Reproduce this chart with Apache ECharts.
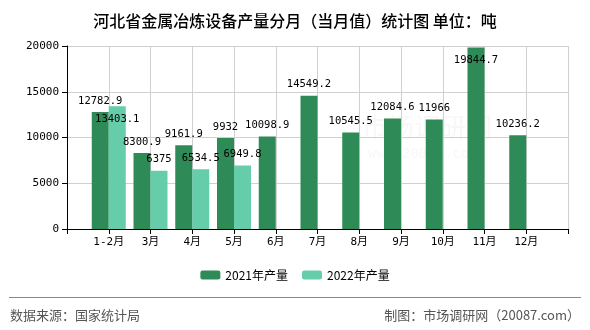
<!DOCTYPE html>
<html>
<head>
<meta charset="utf-8">
<script src="https://cdn.jsdelivr.net/npm/echarts@6/dist/echarts.min.js"></script>
<style>html,body{margin:0;padding:0;background:#fff;}#c{width:590px;height:330px;}</style>
</head>
<body>
<div id="c"></div>
<script>
const categories = ['1-2月','3月','4月','5月','6月','7月','8月','9月','10月','11月','12月'];
const v2021 = [12782.9, 8300.9, 9161.9, 9932, 10098.9, 14549.2, 10545.5, 12084.6, 11966, 19844.7, 10236.2];
const v2022 = [13403.1, 6375, 6534.5, 6949.8];
const yTicks = [0, 5000, 10000, 15000, 20000];
const names = ['2021年产量', '2022年产量'];

const monoFont = '"DejaVu Sans Mono", "Noto Sans CJK SC", monospace';
const axisData = [''].concat(categories, ['']);
function pad(arr, shiftIdx) {
  const out = [null];
  for (let i = 0; i < categories.length; i++) {
    const v = i < arr.length ? arr[i] : null;
    if (v !== null && shiftIdx.indexOf(i) >= 0) {
      out.push({ value: v, label: { offset: [0, 24] } });
    } else out.push(v);
  }
  out.push(null);
  return out;
}
const chart = echarts.init(document.getElementById('c'), null, { renderer: 'canvas' });
const lbl = { show: true, position: 'top', color: '#000', fontFamily: monoFont, fontSize: 10.5, distance: 6 };
chart.setOption({
  animation: false,
  backgroundColor: '#fff',
  title: {
    text: '河北省金属冶炼设备产量分月（当月值）统计图 单位：吨',
    left: 'center', top: 8,
    textStyle: { fontFamily: 'Noto Sans CJK SC', fontSize: 16, fontWeight: 500, color: '#000' }
  },
  legend: {
    data: names, bottom: 44, left: 'center', itemWidth: 20, itemHeight: 9, itemGap: 14,
    textStyle: { fontFamily: 'Noto Sans CJK SC', fontSize: 12, color: '#000' }
  },
  grid: { left: 67, right: 22, top: 46, bottom: 101 },
  xAxis: {
    type: 'category', data: axisData, boundaryGap: false,
    axisLine: { lineStyle: { color: '#000' } },
    axisTick: { show: true, length: 5, lineStyle: { color: '#000' } },
    axisLabel: { color: '#000', fontFamily: monoFont, fontSize: 11, margin: 8, interval: 0 },
    splitLine: { show: true, lineStyle: { color: '#d0d0d0' } }
  },
  yAxis: {
    type: 'value', min: yTicks[0], max: yTicks[yTicks.length - 1], interval: 5000,
    axisLine: { show: true, lineStyle: { color: '#000' } },
    axisTick: { show: true, length: 5, lineStyle: { color: '#000' } },
    axisLabel: { color: '#000', fontFamily: monoFont, fontSize: 11, margin: 8, formatter: v => String(v) },
    splitLine: { show: true, lineStyle: { color: '#d0d0d0' } }
  },
  graphic: [
    { type: 'text', left: 362, top: 114, z: 0, style: { text: '市场调研网', font: '26px "Noto Sans CJK SC"', fill: 'rgba(0,0,0,0.03)' } },
    { type: 'text', left: 368, top: 147, z: 0, style: { text: 'www.20087.com', font: '14px "DejaVu Sans Mono"', fill: 'rgba(0,0,0,0.035)' } },
    { type: 'line', shape: { x1: 9, y1: 297.5, x2: 581, y2: 297.5 }, style: { stroke: '#888', lineWidth: 1 } },
    { type: 'text', left: 10, top: 309, style: { text: '数据来源：国家统计局', font: '13px "Noto Sans CJK SC"', fill: '#555' } },
    { type: 'text', right: 10, top: 309, style: { text: '制图：市场调研网（20087.com）', font: '13px "Noto Sans CJK SC"', fill: '#555' } }
  ],
  series: [
    { name: names[0], type: 'bar', data: pad(v2021, [9]), barWidth: 17, barGap: '0%',
      itemStyle: { color: '#2E8B57' }, label: lbl },
    { name: names[1], type: 'bar', data: pad(v2022, [0]), barWidth: 17, barGap: '0%',
      itemStyle: { color: '#66CDAA' }, label: lbl }
  ]
});
</script>
</body>
</html>
